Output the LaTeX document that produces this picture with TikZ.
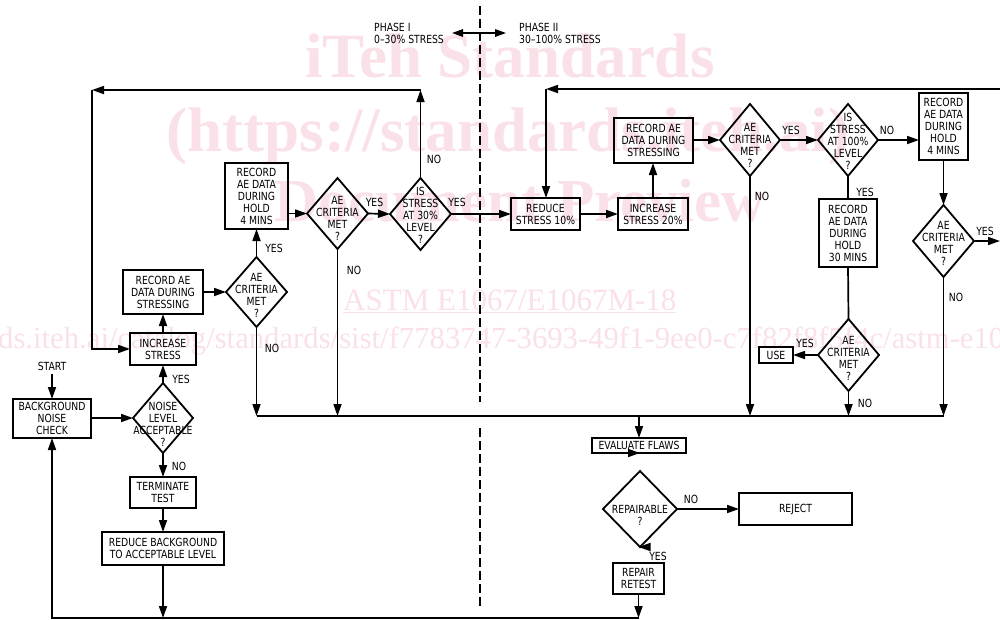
\documentclass[tikz,border=0pt]{standalone}
\usepackage{fontspec}
\usetikzlibrary{arrows.meta}
\newfontfamily\dg[FakeStretch=0.92]{DejaVu Sans Condensed}
\newfontfamily\wmf{Liberation Serif}
\definecolor{wmpink}{RGB}{250,225,232}
\tikzset{
  txt/.style={font=\dg\fontsize{11.2}{12}\selectfont, align=center, inner sep=0, text=black},
  lbl/.style={txt},
  box/.style={txt, draw, line width=1.2pt, outer sep=0},
  dline/.style={line width=1.8pt, line join=miter},
  line/.style={line width=1.7pt},
  arr/.style={line width=1.7pt, -{Triangle[length=12pt,width=8pt]}},
  wmbig/.style={font=\wmf\bfseries\fontsize{63}{63}\selectfont, text=wmpink, inner sep=0, anchor=base},
  wmsmall/.style={font=\wmf\fontsize{30.7}{30.7}\selectfont, text=wmpink, inner sep=0, anchor=base west}
}
% box: [extra style]{name}{x1}{y1}{x2}{y2}{text}
\newcommand\bx[7][]{\node[box, minimum width={#5-#3}, minimum height={#6-#4}, #1] (#2) at ({(#3+#5)/2},{(#4+#6)/2}) {#7};}
% diamond: {name}{cx}{cy}{hw}{hh}{text dy}{text}
\newcommand\dm[7]{%
  \node[inner sep=0, outer sep=0, minimum width={2*#4}, minimum height={2*#5}] (#1) at (#2,#3) {};
  \draw[dline] (#1.north) -- (#1.east) -- (#1.south) -- (#1.west) -- cycle;
  \node[txt] (#1t) at (#2,{#3+#6}) {#7};}
\begin{document}
\begin{tikzpicture}[x=1pt,y=-1pt]
\useasboundingbox[fill=white] (0,0) rectangle (1000,619);
% watermark
\node[wmbig] (wm1) at (510,77) {iTeh Standards};
\node[wmbig] (wm2) at (508,151) {(https://standards.iteh.ai)};
\node[wmbig, font=\wmf\bfseries\fontsize{61}{61}\selectfont] (wm3) at (520,221) {Document Preview};
\node[wmsmall, font=\wmf\fontsize{31}{31}\selectfont] (wm4) at (343,310) {\underline{ASTM E1067/E1067M-18}};
\node[wmsmall] (wm5) at (-2,348) {ds.iteh.ai/catalog/standards/sist/f7783747-3693-49f1-9ee0-c7f82f8f5f4c/astm-e1067-e1067m-18};

% phase divider
\coordinate (dv1) at (480,6);
\coordinate (dv2) at (480,402);
\coordinate (dv3) at (480,428);
\coordinate (dv4) at (480,606);
\draw[line width=1.7pt, dash pattern=on 9pt off 4pt] (dv1) -- (dv2);
\draw[line width=1.7pt, dash pattern=on 9pt off 4pt] (dv3) -- (dv4);
\node[txt, align=left, anchor=west] (ph1) at (374,33) {PHASE I\\0–30\% STRESS};
\node[txt, align=left, anchor=west] (ph2) at (519,33) {PHASE II\\30–100\% STRESS};
\coordinate (pa1) at (452,33);
\coordinate (pa2) at (506,33);
\draw[line width=1.5pt, {Triangle[length=11pt,width=7.5pt]}-{Triangle[length=11pt,width=7.5pt]}] (pa1) -- (pa2);

% boxes
\bx{bBG}{13}{399}{91}{438}{BACKGROUND\\NOISE\\CHECK}
\bx{bIS}{130}{333}{196}{365}{INCREASE\\STRESS}
\bx{bRS}{123}{270}{203}{314}{RECORD AE\\DATA DURING\\STRESSING}
\bx{bRL}{225}{163}{288}{229}{RECORD\\AE DATA\\DURING\\HOLD\\4 MINS}
\bx{bTT}{130}{477}{196}{508}{TERMINATE\\TEST}
\bx{bRB}{102}{532}{224}{565}{REDUCE BACKGROUND\\TO ACCEPTABLE LEVEL}
\bx{bRD}{511}{198}{580}{230}{REDUCE\\STRESS 10\%}
\bx{bI2}{618}{198}{688}{230}{INCREASE\\STRESS 20\%}
\bx{bRR}{614}{118}{693}{163}{RECORD AE\\DATA DURING\\STRESSING}
\bx{bR4}{919}{93}{968}{160}{RECORD\\AE DATA\\DURING\\HOLD\\4 MINS}
\bx[line width=2.4pt]{bR30}{819}{199}{877}{267}{RECORD\\AE DATA\\DURING\\HOLD\\30 MINS}
\bx{bUS}{759}{347}{793}{363}{USE}
\bx{bEV}{592}{438}{686}{453}{EVALUATE FLAWS}
\bx{bRJ}{739}{493}{852}{525}{REJECT}
\bx{bRP}{613}{563}{664}{594}{REPAIR\\RETEST}

% diamonds
\dm{dA}{256.5}{292}{30.5}{35}{3}{AE\\CRITERIA\\MET\\?}
\dm{dB}{337.5}{213.5}{30.5}{35.5}{5}{AE\\CRITERIA\\MET\\?}
\dm{dC}{420.5}{214}{30.5}{36}{1.5}{IS\\STRESS\\AT 30\%\\LEVEL\\?}
\dm{dN}{163}{418}{30}{35}{6}{NOISE\\LEVEL\\ACCEPTABLE\\?}
\dm{dD}{750}{140}{30}{36}{5}{AE\\CRITERIA\\MET\\?}
\dm{dE}{848}{140}{30}{36}{1}{IS\\STRESS\\AT 100\%\\LEVEL\\?}
\dm{dF}{848.5}{355}{30.5}{36}{3.5}{AE\\CRITERIA\\MET\\?}
\dm{dG}{943.5}{241}{30.5}{36}{2}{AE\\CRITERIA\\MET\\?}
\dm{dR}{640}{509}{37}{38}{6}{REPAIRABLE\\?}

% coordinates
\coordinate (cBL) at (52,618);
\coordinate (cBR) at (639,618);
\coordinate (cML) at (256.5,416);
\coordinate (cMR) at (943.5,416);
\coordinate (cT1) at (420.5,90);
\coordinate (cT2) at (92,90);
\coordinate (cP1) at (1006,89);
\coordinate (cP2) at (546,89);
\coordinate (cYR) at (1000,241);

% start
\node[lbl] (start) at (52,366) {START};
\draw[arr] ([yshift=-4pt]start.south) -- (bBG.north);

% phase I connectors
\draw[arr] (bBG.east |- dN.west) -- (dN.west);
\draw[arr] (dN.north) -- (bIS.south);
\draw[arr] (dN.south) -- (bTT.north);
\draw[arr] (bTT.south) -- (bRB.north);
\draw[arr] (bRB.south) -- (bRB.south |- cBL);
\draw[arr, line join=miter] (cBR) -- (cBL) -- (bBG.south);
\draw[arr] (bRP.south) -- (bRP.south |- cBR);
\draw[arr] (bIS.north) -- (bRS.south);
\draw[arr] (bRS.east) -- (dA.west);
\draw[arr] (dA.north) -- (bRL.south);
\draw[arr] (dA.south) -- (cML);
\draw[arr] (bRL.east |- dB.west) -- (dB.west);
\draw[arr] (dB.east) -- (dC.west);
\draw[arr] (dB.south) -- (dB.south |- cML);
\draw[arr] (dC.north) -- (cT1);
\draw[arr] (cT1) -- (cT2);
\draw[arr, line join=miter] (cT2) -- (cT2 |- bIS.west) -- (bIS.west);
\draw[arr] (dC.east) -- (bRD.west |- dC.east);

% phase II connectors
\draw[arr] (cP1) -- (cP2);
\draw[arr] (cP2) -- (cP2 |- bRD.north);
\draw[arr] (bRD.east) -- (bI2.west);
\draw[arr] (bI2.north) -- (bI2.north |- bRR.south);
\draw[arr] (bRR.east |- dD.west) -- (dD.west);
\draw[arr] (dD.east) -- (dE.west);
\draw[arr] (dE.east) -- (dE.east -| bR4.west);
\draw[arr] (dD.south) -- (dD.south |- cML);
\draw[line] (dE.south) -- (bR30.north);
\draw[line] (bR30.south) -- (dF.north);
\draw[arr] (dF.west) -- (bUS.east);
\draw[arr] (dF.south) -- (dF.south |- cML);
\draw[arr] (bR4.south) -- (bR4.south |- dG.north);
\draw[arr] (dG.east) -- (cYR);
\draw[arr] (dG.south) -- (cMR);
\draw[line] (cML) -- (cMR);
\draw[arr] (bEV.north |- cML) -- (bEV.north);
\draw[arr] (bEV.south) -- (bEV.south -| dR.north);
\draw[arr] (dR.east) -- (bRJ.west);
\draw[arr] (dR.south) -- (dR.south -| bRP.north);

% labels
\node[lbl] (l1) at (181,379) {YES};
\node[lbl] (l2) at (179,466) {NO};
\node[lbl] (l3) at (274,248) {YES};
\node[lbl] (l4) at (272,348) {NO};
\node[lbl] (l5) at (374.5,202) {YES};
\node[lbl] (l6) at (354,270) {NO};
\node[lbl] (l7) at (434,159) {NO};
\node[lbl] (l8) at (457,202) {YES};
\node[lbl] (l9) at (791,130) {YES};
\node[lbl] (l10) at (762,196) {NO};
\node[lbl] (l11) at (887,130) {NO};
\node[lbl] (l12) at (865,192) {YES};
\node[lbl] (l13) at (985,231) {YES};
\node[lbl] (l14) at (956,297) {NO};
\node[lbl] (l15) at (805,343) {YES};
\node[lbl] (l16) at (865,403) {NO};
\node[lbl] (l17) at (691,499) {NO};
\node[lbl] (l18) at (658,556) {YES};
\end{tikzpicture}
\end{document}
